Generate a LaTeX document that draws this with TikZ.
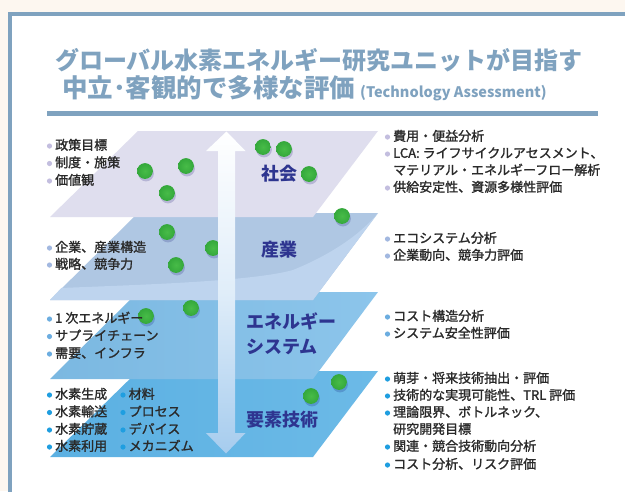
\documentclass[tikz,border=0pt]{standalone}
\usepackage{fontspec}
\setmainfont{Noto Sans CJK JP}
\newfontfamily\medjp{Noto Sans CJK JP}[FakeBold=1.4]
\definecolor{cream}{HTML}{FDF7F0}
\definecolor{framec}{HTML}{7FA2BF}
\definecolor{pA}{HTML}{DFDEEE}
\definecolor{pB}{HTML}{AFC7E3}
\definecolor{pBl}{HTML}{BED4EE}
\definecolor{pC}{HTML}{7BB8E1}
\definecolor{pCl}{HTML}{8CC5EB}
\definecolor{pD}{HTML}{5BB0E2}
\definecolor{pDl}{HTML}{6CBAE7}
\definecolor{bA}{HTML}{C3BEDF}
\definecolor{bB}{HTML}{A2B8E0}
\definecolor{bC}{HTML}{6CADE0}
\definecolor{bD}{HTML}{1F9EE0}
\definecolor{dotc}{HTML}{34A83B}
\definecolor{dotl}{HTML}{48BC48}
\definecolor{labc}{HTML}{2E3590}
\definecolor{txtc}{HTML}{2A2A2A}
\definecolor{arrb}{HTML}{A6CCEE}
\newcommand\itm[5]{\fill[#4] (#2-5.5,#3) circle (2.6);\node[txtn] (#1) at (#2,#3) {#5};}
\newcommand\gdot[2]{\fill[black!60!blue,opacity=.18] (#1+1,#2+2.5) circle (7.9);\shade[inner color=dotl,outer color=dotc] (#1,#2) circle (7.9);}
\tikzset{
  txtn/.style={anchor=west,inner sep=0pt,text=txtc,font=\medjp\fontsize{13}{15}\selectfont,text height=0.88em,text depth=0.12em},
  labn/.style={anchor=west,inner sep=0pt,text=labc,font=\bfseries\fontsize{18}{22}\selectfont,text height=0.88em,text depth=0.12em},
  titlen/.style={anchor=base west,inner sep=0pt,text=framec,font=\bfseries\fontsize{24}{28}\selectfont}
}
\begin{document}
\begin{tikzpicture}[x=1pt,y=-1pt]
\useasboundingbox (0,0) rectangle (625,491);
\fill[cream] (0,0) rectangle (625,491);
\fill[white] (10,13.5) rectangle (625,491);
\draw[framec,line width=4pt] (10,495) -- (10,13.5) -- (630,13.5);
% title
\node[titlen] (t1) at (55,69) {グローバル水素エネルギー研究ユニットが目指す};
\node[titlen,font=\bfseries\fontsize{25.5}{28}\selectfont] (t2) at (62,97) {中立･客観的で多様な評価};
\node[titlen,font=\bfseries\fontsize{14.5}{16}\selectfont] (t3) at (360,97) {(Technology Assessment)};
\draw[framec,line width=5pt] (47,113.5) -- (598,113.5);
% planes (bottom to top)
\shade[left color=pD,right color=pDl] (138,371) -- (378,371) -- (313,457) -- (50,457) -- cycle;
\shade[left color=pC,right color=pCl] (138,292) -- (378,292) -- (313,379) -- (50,379) -- cycle;
\fill[pB] (138,213) -- (378,213) -- (313,300) -- (50,300) -- cycle;
\fill[pBl] (61.3,288) .. controls (130,285) and (250,282) .. (293,270) .. controls (330,255) and (360,235) .. (378,213) -- (313,300) -- (50,300) -- cycle;
\fill[pA] (138,131) -- (378,131) -- (313,217) -- (50,217) -- cycle;
% dots
\gdot{263}{147}\gdot{284}{149}\gdot{145}{171}\gdot{186}{166}\gdot{309}{174}
\gdot{167}{193}\gdot{342}{216}\gdot{167}{232}\gdot{213}{248}\gdot{176}{265}
\gdot{191}{308}\gdot{146}{316}\gdot{339}{382}\gdot{311}{396}
% arrow
\shade[top color=white,bottom color=arrb,middle color=arrb!35!white]
 (226.5,131.5) -- (245.5,151) -- (235,151) -- (235,433) -- (245.5,433) -- (226,453.5)
 -- (206,433) -- (218,433) -- (218,151) -- (206,151) -- cycle;
% layer labels
\node[labn] (lab1) at (261,177) {社会};
\node[labn] (lab2) at (261,253) {産業};
\node[labn] (lab3a) at (246,325) {エネルギー};
\node[labn] (lab3b) at (246,350) {システム};
\node[labn] (lab4) at (246,423) {要素技術};
% left lists
\itm{a1}{55}{146}{bA}{政策目標}
\itm{a2}{55}{163.5}{bA}{制度・施策}
\itm{a3}{55}{181}{bA}{価値観}
\itm{b1}{55}{248}{bB}{企業、産業構造}
\itm{b2}{55}{265}{bB}{戦略、競争力}
\itm{c1}{55}{319}{bC}{1 次エネルギー}
\itm{c2}{55}{336.5}{bC}{サプライチェーン}
\itm{c3}{55}{354}{bC}{需要、インフラ}
\itm{d1}{55}{395}{bD}{水素生成}
\itm{d2}{55}{412.5}{bD}{水素輸送}
\itm{d3}{55}{430}{bD}{水素貯蔵}
\itm{d4}{55}{447}{bD}{水素利用}
\itm{e1}{128.5}{395}{bD}{材料}
\itm{e2}{128.5}{412.5}{bD}{プロセス}
\itm{e3}{128.5}{430}{bD}{デバイス}
\itm{e4}{128.5}{447}{bD}{メカニズム}
% right lists
\itm{r1}{393}{137}{bA}{費用・便益分析}
\itm{r2}{393}{154}{bA}{LCA: ライフサイクルアセスメント、}
\node[txtn] (r3) at (393,171) {マテリアル・エネルギーフロー解析};
\itm{r4}{393}{188}{bA}{供給安定性、資源多様性評価}
\itm{s1}{393}{239}{bB}{エコシステム分析}
\itm{s2}{393}{256}{bB}{企業動向、競争力評価}
\itm{u1}{393}{317}{bC}{コスト構造分析}
\itm{u2}{393}{334}{bC}{システム安全性評価}
\itm{v1}{393}{379}{bD}{萌芽・将来技術抽出・評価}
\itm{v2}{393}{396}{bD}{技術的な実現可能性、TRL 評価}
\itm{v3}{393}{413}{bD}{理論限界、ボトルネック、}
\node[txtn] (v4) at (393,430) {研究開発目標};
\itm{v5}{393}{447}{bD}{関連・競合技術動向分析}
\itm{v6}{393}{465}{bD}{コスト分析、リスク評価}
\end{tikzpicture}
\end{document}
